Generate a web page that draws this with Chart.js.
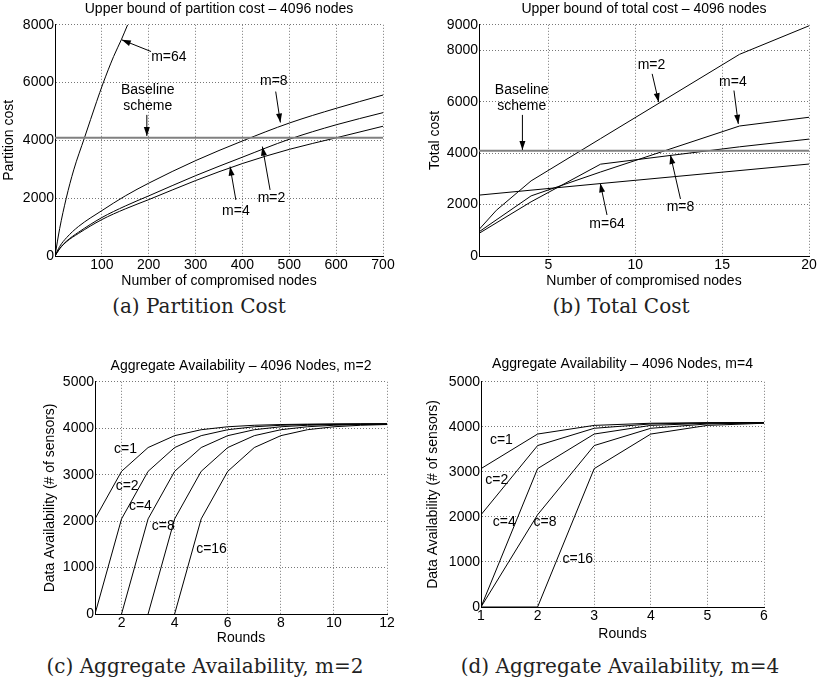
<!DOCTYPE html>
<html>
<head>
<meta charset="utf-8">
<script src="https://cdn.jsdelivr.net/npm/chart.js@4"></script>
<style>
  body { margin: 0; background: #fff; width: 818px; height: 686px; position: relative; overflow: hidden; }
  canvas { position: absolute; }
  .cap { position: absolute; font-family: "DejaVu Serif"; font-size: 20px; color: #222; white-space: nowrap; transform: translate(-50%, -50%); }
</style>
</head>
<body>
<canvas id="chartA" width="400" height="290" style="left:0px;top:0px"></canvas>
<canvas id="chartB" width="403" height="290" style="left:415px;top:0px"></canvas>
<canvas id="chartC" width="370" height="305" style="left:35px;top:345px"></canvas>
<canvas id="chartD" width="403" height="305" style="left:415px;top:345px"></canvas>
<div class="cap" style="left:199px;top:306px">(a) Partition Cost</div>
<div class="cap" style="left:621px;top:306px">(b) Total Cost</div>
<div class="cap" style="left:205px;top:666px">(c) Aggregate Availability, m=2</div>
<div class="cap" style="left:620px;top:666px">(d) Aggregate Availability, m=4</div>
<script>
// (a) partition cost vs compromised nodes
const aX = [0, 10, 25, 50, 100, 150, 200, 300, 400, 500, 600, 700];
const aM2 = [0, 260, 520, 820, 1330, 1730, 2080, 2780, 3420, 4040, 4540, 4960];
const aM4 = [0, 250, 500, 780, 1260, 1630, 1950, 2610, 3200, 3690, 4090, 4490];
const aM8 = [0, 330, 640, 1020, 1570, 2080, 2520, 3300, 3980, 4600, 5110, 5570];
const aX64 = [0, 10, 24, 40, 63, 89, 102, 125, 142, 155];
const aM64 = [0, 950, 2000, 2980, 4096, 5350, 5950, 6900, 7500, 8000];
const aBaseX = [0, 700];
const aBase = [4096, 4096];
const aXTicks = [100, 200, 300, 400, 500, 600, 700];
const aYTicks = [0, 2000, 4000, 6000, 8000];

// (b) total cost vs compromised nodes
const bX = [1, 2, 4, 8, 16, 20];
const bM2 = [1030, 1780, 2925, 4570, 7850, 8960];
const bM4 = [940, null, 2340, 3270, 5060, 5400];
const bM8 = [880, null, 2110, 3575, 4250, 4550];
const bM64 = [2370, null, null, 2820, null, 3580];
const bBaseX = [1, 20];
const bBase = [4096, 4096];
const bXTicks = [5, 10, 15, 20];
const bYTicks = [0, 2000, 4000, 6000, 8000, 9000];

// (c) aggregate availability, m=2
const cX = [1, 2, 3, 4, 5, 6, 7, 8, 9, 10, 11, 12];
const cC1 = [2048, 3072, 3584, 3840, 3968, 4032, 4064, 4080, 4088, 4092, 4094, 4095];
const cC2 = [0, 2048, 3072, 3584, 3840, 3968, 4032, 4064, 4080, 4088, 4092, 4094];
const cC4 = [null, 0, 2048, 3072, 3584, 3840, 3968, 4032, 4064, 4080, 4088, 4092];
const cC8 = [null, null, 0, 2048, 3072, 3584, 3840, 3968, 4032, 4064, 4080, 4088];
const cC16 = [null, null, null, 0, 2048, 3072, 3584, 3840, 3968, 4032, 4064, 4080];
const cXTicks = [2, 4, 6, 8, 10, 12];
const cYTicks = [0, 1000, 2000, 3000, 4000, 5000];

// (d) aggregate availability, m=4
const dX = [1, 2, 3, 4, 5, 6];
const dC1 = [3072, 3840, 4032, 4080, 4092, 4095];
const dC2 = [2048, 3584, 3968, 4064, 4088, 4094];
const dC4 = [0, 3072, 3840, 4032, 4080, 4092];
const dC8 = [0, 2048, 3584, 3968, 4064, 4088];
const dC16 = [0, 0, 3072, 3840, 4032, 4080];
const dXTicks = [1, 2, 3, 4, 5, 6];
const dYTicks = [0, 1000, 2000, 3000, 4000, 5000];

const FONT = 'Liberation Sans';

// text labels and arrows, in data units of each panel
const notesA = [
  {text: 'm=64', x: 243, y: 6892, from: [205, 7075], to: [142.5, 7480]},
  {text: 'Baseline\nscheme', x: 198, y: 5448, from: [196, 4883], to: [196, 4156]},
  {text: 'm=8', x: 467, y: 6036, from: [471, 5690], to: [481, 4620]},
  {text: 'm=2', x: 462, y: 1998, from: [459, 2286], to: [442.6, 3786]},
  {text: 'm=4', x: 386, y: 1569, from: [386, 1939], to: [373.6, 3093]}
];
const notesB = [
  {text: 'm=2', x: 10.93, y: 7414, from: [10.97, 7090], to: [11.35, 5987]},
  {text: 'm=4', x: 15.62, y: 6751, from: [15.68, 6441], to: [15.93, 5142]},
  {text: 'Baseline\nscheme', x: 3.46, y: 6128, from: [3.5, 5493], to: [3.5, 4129]},
  {text: 'm=8', x: 12.6, y: 1896, from: [12.6, 2220], to: [12.02, 3934]},
  {text: 'm=64', x: 8.37, y: 1247, from: [8.37, 1597], to: [7.98, 2832]}
];
const notesC = [
  {text: 'c=1', x: 2.15, y: 3546},
  {text: 'c=2', x: 2.21, y: 2744},
  {text: 'c=4', x: 2.71, y: 2328},
  {text: 'c=8', x: 3.57, y: 1884},
  {text: 'c=16', x: 5.39, y: 1404}
];
const notesD = [
  {text: 'c=1', x: 1.36, y: 3708},
  {text: 'c=2', x: 1.28, y: 2821},
  {text: 'c=4', x: 1.41, y: 1883},
  {text: 'c=8', x: 2.13, y: 1883},
  {text: 'c=16', x: 2.71, y: 1064}
];

const annotate = {
  id: 'annotate',
  afterDatasetsDraw(chart, args, opts) {
    const {ctx} = chart;
    const sx = chart.scales.x, sy = chart.scales.y;
    ctx.save();
    ctx.font = '14px "' + FONT + '"';
    ctx.fillStyle = '#000';
    ctx.strokeStyle = '#000';
    ctx.lineWidth = 1;
    ctx.textAlign = 'center';
    ctx.textBaseline = 'middle';
    (opts.items || []).forEach(n => {
      const lines = n.text.split('\n');
      const px = sx.getPixelForValue(n.x), py = sy.getPixelForValue(n.y);
      lines.forEach((t, i) => ctx.fillText(t, px, py + (i - (lines.length - 1) / 2) * 16));
      if (n.from) {
        const x1 = sx.getPixelForValue(n.from[0]), y1 = sy.getPixelForValue(n.from[1]);
        const x2 = sx.getPixelForValue(n.to[0]), y2 = sy.getPixelForValue(n.to[1]);
        const ang = Math.atan2(y2 - y1, x2 - x1);
        ctx.beginPath();
        ctx.moveTo(x1, y1);
        ctx.lineTo(x2, y2);
        ctx.stroke();
        ctx.beginPath();
        ctx.moveTo(x2, y2);
        ctx.lineTo(x2 - 9 * Math.cos(ang) + 3 * Math.sin(ang), y2 - 9 * Math.sin(ang) - 3 * Math.cos(ang));
        ctx.lineTo(x2 - 9 * Math.cos(ang) - 3 * Math.sin(ang), y2 - 9 * Math.sin(ang) + 3 * Math.cos(ang));
        ctx.closePath();
        ctx.fill();
      }
    });
    ctx.restore();
  }
};

function pairs(xs, ys) {
  return xs.map((x, i) => ({x: x, y: ys[i]}));
}

function series(label, xs, ys, extra) {
  return Object.assign({
    label: label,
    data: pairs(xs, ys),
    borderColor: '#000',
    borderWidth: 1,
    pointRadius: 0,
    fill: false,
    spanGaps: true,
    tension: 0
  }, extra || {});
}

function axis(min, max, ticks, title, titlePad, size) {
  return {
    type: 'linear',
    min: min,
    max: max,
    afterBuildTicks: s => { s.ticks = ticks.map(v => ({value: v})); },
    afterFit: s => { if (s.isHorizontal()) s.height = size; else s.width = size; },
    grid: {color: '#777', lineWidth: 1, drawTicks: false},
    border: {display: true, color: '#000', width: 1, dash: [1, 2]},
    ticks: {
      color: '#000', font: {family: FONT, size: 14}, padding: 1, autoSkip: false, maxRotation: 0,
      callback: v => String(v)
    },
    title: {display: true, text: title, color: '#000', font: {family: FONT, size: 14}, padding: titlePad}
  };
}

function makeChart(id, datasets, cfg) {
  return new Chart(document.getElementById(id), {
    type: 'line',
    data: {datasets: datasets},
    plugins: [annotate],
    options: {
      responsive: false,
      animation: false,
      layout: {padding: cfg.padding},
      scales: {x: cfg.x, y: cfg.y},
      plugins: {
        legend: {display: false},
        tooltip: {enabled: false},
        title: {
          display: true, text: cfg.title, color: '#000', fullSize: false,
          font: {family: FONT, size: 14, weight: 'normal'},
          padding: cfg.titlePad
        },
        annotate: {items: cfg.notes}
      }
    }
  });
}

const smooth = {cubicInterpolationMode: 'monotone'};
const base = {borderColor: '#808080', borderWidth: 2};

makeChart('chartA', [
  series('Baseline', aBaseX, aBase, base),
  series('m=2', aX, aM2, smooth),
  series('m=4', aX, aM4, smooth),
  series('m=8', aX, aM8, smooth),
  series('m=64', aX64, aM64, smooth)
], {
  title: 'Upper bound of partition cost \u2013 4096 nodes',
  titlePad: {top: 1, bottom: 7},
  padding: {left: 0, right: 17, top: 0, bottom: 0},
  x: axis(0, 700, aXTicks, 'Number of compromised nodes', {bottom: 0}, 34),
  y: axis(0, 8000, aYTicks, 'Partition cost', {top: 1}, 55),
  notes: notesA
});

makeChart('chartB', [
  series('Baseline', bBaseX, bBase, base),
  series('m=2', bX, bM2),
  series('m=4', bX, bM4),
  series('m=8', bX, bM8),
  series('m=64', bX, bM64)
], {
  title: 'Upper bound of total cost \u2013 4096 nodes',
  titlePad: {top: 1, bottom: 7},
  padding: {left: 0, right: 9, top: 0, bottom: 0},
  x: axis(1, 20, bXTicks, 'Number of compromised nodes', {bottom: 0}, 34),
  y: axis(0, 9000, bYTicks, 'Total cost', {top: 12}, 64),
  notes: notesB
});

makeChart('chartC', [
  series('c=1', cX, cC1),
  series('c=2', cX, cC2),
  series('c=4', cX, cC4),
  series('c=8', cX, cC8),
  series('c=16', cX, cC16)
], {
  title: 'Aggregate Availability \u2013 4096 Nodes, m=2',
  titlePad: {top: 13, bottom: 7},
  padding: {left: 0, right: 18, top: 0, bottom: 0},
  x: axis(1, 12, cXTicks, 'Rounds', {bottom: 3}, 36),
  y: axis(0, 5000, cYTicks, 'Data Availability (# of sensors)', {top: 7}, 60),
  notes: notesC
});

makeChart('chartD', [
  series('c=1', dX, dC1),
  series('c=2', dX, dC2),
  series('c=4', dX, dC4),
  series('c=8', dX, dC8),
  series('c=16', dX, dC16)
], {
  title: 'Aggregate Availability \u2013 4096 Nodes, m=4',
  titlePad: {top: 11, bottom: 9},
  padding: {left: 0, right: 54, top: 0, bottom: 0},
  x: axis(1, 6, dXTicks, 'Rounds', {bottom: 7}, 43),
  y: axis(0, 5000, dYTicks, 'Data Availability (# of sensors)', {top: 10}, 66),
  notes: notesD
});
</script>
</body>
</html>
